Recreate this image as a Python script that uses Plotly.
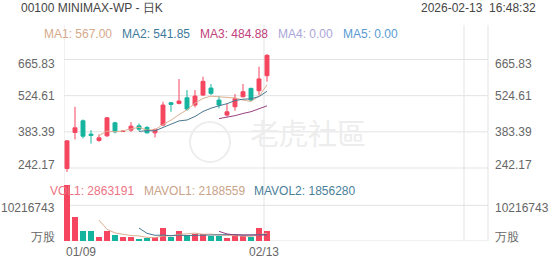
import plotly.graph_objects as go

# ---------------- data ----------------
dates = ["01/09", "01/12", "01/13", "01/14", "01/15", "01/16", "01/19", "01/20", "01/21",
         "01/22", "01/23", "01/26", "01/27", "01/28", "01/29", "01/30", "02/02", "02/03",
         "02/04", "02/05", "02/06", "02/09", "02/10", "02/11", "02/12", "02/13"]
opens = [240.1, 381.0, 426.4, 374.4, 349.7, 367.7, 418.6, 385.0, 390.0, 406.8, 400.6, 379.4, 409.6,
         496.8, 494.5, 516.4, 487.8, 526.9, 554.3, 507.4, 448.7, 481.2, 520.3, 553.1, 543.8, 602.5]
highs = [350.0, 481.2, 431.8, 390.0, 373.2, 440.8, 422.5, 388.0, 421.3, 416.2, 405.6, 396.6, 500.7,
         499.5, 589.5, 546.5, 546.5, 598.5, 570.0, 523.0, 494.5, 530.9, 570.0, 555.5, 637.7, 687.3]
lows = [226.9, 353.6, 357.5, 337.9, 345.0, 363.8, 377.1, 383.0, 383.4, 387.3, 377.1, 361.4, 405.6,
        461.6, 490.6, 465.5, 478.8, 524.2, 526.9, 474.9, 442.0, 465.5, 517.9, 503.5, 526.9, 579.0]
closes = [348.1, 399.0, 366.5, 369.3, 359.9, 438.1, 383.4, 386.0, 405.6, 393.9, 379.4, 392.7, 487.8,
          490.6, 503.5, 472.2, 523.0, 580.5, 533.6, 487.8, 461.6, 513.9, 539.9, 507.4, 590.0, 682.0]
volumes = [16080000, 6750000, 2890000, 3000000, 1150000, 2890000, 1640000, 1070000, 1070000,
           580000, 870000, 1150000, 3580000, 1150000, 2800000, 1640000, 2130000, 1930000,
           1440000, 1440000, 980000, 1640000, 1440000, 1150000, 3580000, 2863191]

ma1 = [None] * 4 + [368.6, 386.6, 383.4, 387.3, 394.6, 401.4, 389.7, 391.5, 411.9, 428.9, 450.8,
                    469.4, 495.4, 514.0, 522.6, 519.4, 517.3, 515.5, 507.4, 502.1, 522.6, 567.0]
ma2 = [None] * 9 + [385.0, 388.1, 387.5, 399.6, 411.7, 426.1, 429.5, 443.5, 462.9, 475.7, 485.1,
                    493.3, 505.5, 510.7, 512.3, 521.0, 541.85]
ma3 = [None] * 19 + [435.0, 440.7, 446.5, 455.1, 462.0, 473.5, 484.88]

mavol1 = [None] * 4 + [5970000, 3340000, 2310000, 1950000, 1560000, 1450000, 1050000, 950000,
                       1450000, 1470000, 1910000, 2060000, 2260000, 1930000, 1990000, 1720000,
                       1580000, 1490000, 1390000, 1330000, 1760000, 2188559]
mavol2 = [None] * 9 + [3710000, 2190000, 1630000, 1700000, 1520000, 1680000, 1560000, 1600000,
                       1690000, 1730000, 1810000, 1820000, 1870000, 1660000, 1660000, 1740000, 1856280]
mavol3 = [None] * 19 + [2760000, 2010000, 1750000, 1680000, 1590000, 1710000, 1710000]

price_ticks = [665.83, 524.61, 383.39, 242.17]
price_tick_shift = [-4.5, 0, 0, 3.5]
vol_ticks = [10216743, 0]
vol_tick_text = ["10216743", "万股"]
vol_tick_shift = [-2.5, 4.5]
date_ticks = [(0, "01/09", "left"), (25, "02/13", "center")]

# ---------------- styling ----------------
W, H = 552, 265
RED = "#F5455F"
GREEN = "#15B49F"
C_MA1 = "#DDB093"
C_MA2 = "#4B7790"
C_MA3 = "#9A4283"
GRID = "#E3E3E3"
LBL = "#666666"
FONT = "Arial, Liberation Sans, sans-serif"

px = lambda v: v / W
py = lambda v: 1 - v / H

x = list(range(len(dates)))
inc = [c >= o for o, c in zip(opens, closes)]

fig = go.Figure()
fig.add_trace(go.Candlestick(
    x=x, open=opens, high=highs, low=lows, close=closes,
    increasing=dict(line=dict(color=RED, width=1), fillcolor=RED),
    decreasing=dict(line=dict(color=GREEN, width=1), fillcolor=GREEN),
    whiskerwidth=0, hoverinfo="skip", showlegend=False, xaxis="x", yaxis="y"))

for vals, col in [(ma1, C_MA1), (ma2, C_MA2), (ma3, C_MA3)]:
    fig.add_trace(go.Scatter(x=x, y=vals, mode="lines", line=dict(color=col, width=1),
                             hoverinfo="skip", showlegend=False, xaxis="x", yaxis="y"))

fig.add_trace(go.Bar(x=x, y=volumes, width=0.75,
                     marker=dict(color=[RED if u else GREEN for u in inc], line=dict(width=0)),
                     hoverinfo="skip", showlegend=False, xaxis="x", yaxis="y2"))
for vals, col in [(mavol1, C_MA1), (mavol2, C_MA2), (mavol3, C_MA3)]:
    fig.add_trace(go.Scatter(x=x, y=vals, mode="lines", line=dict(color=col, width=1),
                             hoverinfo="skip", showlegend=False, xaxis="x", yaxis="y2"))

shapes = []
# horizontal grid lines
for t in price_ticks:
    shapes.append(dict(type="line", xref="paper", yref="y", x0=px(64), x1=px(488), y0=t, y1=t,
                       line=dict(color=GRID, width=1), layer="below"))
for t in vol_ticks:
    shapes.append(dict(type="line", xref="paper", yref="y2", x0=px(64), x1=px(488), y0=t, y1=t,
                       line=dict(color=GRID, width=1), layer="below"))
# vertical grid lines
for xv in [-0.375, 24.625, 49.625]:
    shapes.append(dict(type="line", xref="x", yref="paper", x0=xv, x1=xv, y0=py(241), y1=py(25),
                       line=dict(color=GRID, width=1), layer="below"))
shapes.append(dict(type="line", xref="paper", yref="paper", x0=px(488), x1=px(488),
                   y0=py(241), y1=py(25), line=dict(color=GRID, width=1), layer="below"))
# watermark logo circle
shapes.append(dict(type="circle", xref="paper", yref="paper", x0=px(190), x1=px(230),
                   y0=py(162), y1=py(122), line=dict(color="#EDEDED", width=2), layer="below"))

ann = []
def text(xp, yp, s, color, size=12, anchor="left", **kw):
    ann.append(dict(xref="paper", yref="paper", x=px(xp), y=py(yp), text=s, showarrow=False,
                    xanchor=anchor, yanchor="middle", font=dict(family=FONT, size=size, color=color),
                    **kw))

text(19, 8, "00100 MINIMAX-WP - 日K", "#444444")
text(538, 8, "2026-02-13  16:48:32", "#444444", anchor="right")
text(42, 34, "MA1: 567.00", "#D6A98B")
text(120, 34, "MA2: 541.85", "#3E7A9A")
text(198, 34, "MA3: 484.88", "#C0407B")
text(276, 34, "MA4: 0.00", "#AAA5D8")
text(341, 34, "MA5: 0.00", "#5A9BD3")
text(48, 191, "VOL1: 2863191", "#EE7383")
text(142, 191, "MAVOL1: 2188559", "#C9A38A")
text(252, 191, "MAVOL2: 1856280", "#4A7F99")

for t, sh in zip(price_ticks, price_tick_shift):
    for xp, anc in [(57, "right"), (493, "left")]:
        ann.append(dict(xref="paper", yref="y", x=px(xp), y=t, yshift=sh, text=f"{t:.2f}",
                        showarrow=False, xanchor=anc, yanchor="middle",
                        font=dict(family=FONT, size=12, color=LBL)))
for t, s, sh in zip(vol_ticks, vol_tick_text, vol_tick_shift):
    for xp, anc in [(57, "right"), (493, "left")]:
        ann.append(dict(xref="paper", yref="y2", x=px(xp), y=t, yshift=sh, text=s,
                        showarrow=False, xanchor=anc, yanchor="middle",
                        font=dict(family=FONT, size=12, color=LBL)))
for i, s, anc in date_ticks:
    xv = i - 0.375
    ann.append(dict(xref="x", yref="paper", x=xv, y=py(252), text=s, showarrow=False,
                    xanchor=anc, yanchor="middle", font=dict(family=FONT, size=12, color=LBL)))

# watermark text
ann.append(dict(xref="paper", yref="paper", x=px(308), y=py(132), text="老虎社區", showarrow=False,
                xanchor="center", yanchor="middle",
                font=dict(family="Noto Sans CJK TC", size=29, color="#EDEDED")))

fig.update_layout(
    width=W, height=H, margin=dict(l=0, r=0, t=0, b=0),
    paper_bgcolor="white", plot_bgcolor="rgba(0,0,0,0)",
    xaxis=dict(domain=[px(64), px(488)], range=[-0.375, 52.625], showgrid=False, zeroline=False,
               showticklabels=False, ticks="", rangeslider=dict(visible=False), anchor="y2",
               fixedrange=True),
    yaxis=dict(domain=[py(175), py(25)], range=[214.84, 800.54], showgrid=False, zeroline=False,
               showticklabels=False, ticks="", fixedrange=True),
    yaxis2=dict(domain=[py(241), py(178)], range=[0, 18030000], showgrid=False, zeroline=False,
                showticklabels=False, ticks="", fixedrange=True),
    shapes=shapes, annotations=ann, showlegend=False, bargap=0,
)

fig.write_html("out.html")
